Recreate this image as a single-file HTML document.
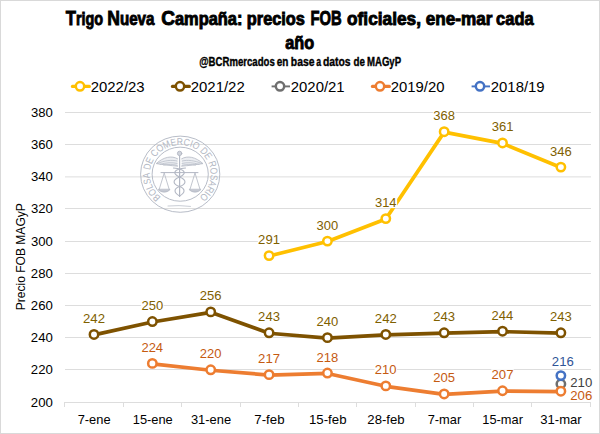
<!DOCTYPE html>
<html><head><meta charset="utf-8"><style>html,body{margin:0;padding:0;background:#fff;width:600px;height:434px;overflow:hidden}svg{display:block}</style></head>
<body><svg width="600" height="434" viewBox="0 0 600 434" font-family='"Liberation Sans", sans-serif'><rect x="0.5" y="0.5" width="599" height="433" fill="#fff" stroke="#d9d9d9" stroke-width="1"/>
<line x1="65" y1="112.5" x2="591" y2="112.5" stroke="#dddddd" stroke-width="1"/>
<line x1="65" y1="144.5" x2="591" y2="144.5" stroke="#dddddd" stroke-width="1"/>
<line x1="65" y1="176.9" x2="591" y2="176.9" stroke="#dddddd" stroke-width="1"/>
<line x1="65" y1="208.5" x2="591" y2="208.5" stroke="#dddddd" stroke-width="1"/>
<line x1="65" y1="241.5" x2="591" y2="241.5" stroke="#dddddd" stroke-width="1"/>
<line x1="65" y1="273.5" x2="591" y2="273.5" stroke="#dddddd" stroke-width="1"/>
<line x1="65" y1="305.5" x2="591" y2="305.5" stroke="#dddddd" stroke-width="1"/>
<line x1="65" y1="337.5" x2="591" y2="337.5" stroke="#dddddd" stroke-width="1"/>
<line x1="65" y1="369.5" x2="591" y2="369.5" stroke="#dddddd" stroke-width="1"/>
<line x1="65" y1="402.5" x2="591" y2="402.5" stroke="#dddddd" stroke-width="1"/>
<line x1="64.5" y1="402" x2="64.5" y2="407" stroke="#dddddd" stroke-width="1"/>
<line x1="123.5" y1="402" x2="123.5" y2="407" stroke="#dddddd" stroke-width="1"/>
<line x1="181.5" y1="402" x2="181.5" y2="407" stroke="#dddddd" stroke-width="1"/>
<line x1="240.5" y1="402" x2="240.5" y2="407" stroke="#dddddd" stroke-width="1"/>
<line x1="298.5" y1="402" x2="298.5" y2="407" stroke="#dddddd" stroke-width="1"/>
<line x1="356.5" y1="402" x2="356.5" y2="407" stroke="#dddddd" stroke-width="1"/>
<line x1="415.5" y1="402" x2="415.5" y2="407" stroke="#dddddd" stroke-width="1"/>
<line x1="473.5" y1="402" x2="473.5" y2="407" stroke="#dddddd" stroke-width="1"/>
<line x1="531.5" y1="402" x2="531.5" y2="407" stroke="#dddddd" stroke-width="1"/>
<line x1="590.5" y1="402" x2="590.5" y2="407" stroke="#dddddd" stroke-width="1"/>
<g transform="translate(180.2,174.2) scale(1,0.962)">
<g fill="none" stroke="#b2b7c3" stroke-width="0.95">
<circle cx="0" cy="0" r="39.6"/>
<circle cx="0" cy="0" r="28.1"/>
</g>
<g font-size="10.2" fill="#b2b7c3" text-anchor="middle">
<text transform="translate(-21.15,21.84) rotate(-135.92) scale(0.848,1)">B</text>
<text transform="translate(-25.16,17.06) rotate(-124.14) scale(0.848,1)">O</text>
<text transform="translate(-27.93,12.00) rotate(-113.26) scale(0.848,1)">L</text>
<text transform="translate(-29.59,6.99) rotate(-103.29) scale(0.848,1)">S</text>
<text transform="translate(-30.37,1.28) rotate(-92.41) scale(0.848,1)">A</text>
<text transform="translate(-29.57,-7.07) rotate(-76.55) scale(0.848,1)">D</text>
<text transform="translate(-27.60,-12.74) rotate(-65.22) scale(0.848,1)">E</text>
<text transform="translate(-23.07,-19.80) rotate(-49.37) scale(0.848,1)">C</text>
<text transform="translate(-18.35,-24.23) rotate(-37.14) scale(0.848,1)">O</text>
<text transform="translate(-12.37,-27.77) rotate(-24.00) scale(0.848,1)">M</text>
<text transform="translate(-6.20,-29.76) rotate(-11.77) scale(0.848,1)">E</text>
<text transform="translate(-0.24,-30.40) rotate(-0.45) scale(0.848,1)">R</text>
<text transform="translate(5.97,-29.81) rotate(11.33) scale(0.848,1)">C</text>
<text transform="translate(10.14,-28.66) rotate(19.48) scale(0.848,1)">I</text>
<text transform="translate(14.31,-26.82) rotate(28.09) scale(0.848,1)">O</text>
<text transform="translate(21.44,-21.55) rotate(44.85) scale(0.848,1)">D</text>
<text transform="translate(25.26,-16.92) rotate(56.18) scale(0.848,1)">E</text>
<text transform="translate(28.92,-9.38) rotate(72.04) scale(0.848,1)">R</text>
<text transform="translate(30.25,-3.04) rotate(84.27) scale(0.848,1)">O</text>
<text transform="translate(30.23,3.20) rotate(96.05) scale(0.848,1)">S</text>
<text transform="translate(29.08,8.85) rotate(106.93) scale(0.848,1)">A</text>
<text transform="translate(26.78,14.39) rotate(118.25) scale(0.848,1)">R</text>
<text transform="translate(24.47,18.04) rotate(126.41) scale(0.848,1)">I</text>
<text transform="translate(21.49,21.50) rotate(135.01) scale(0.848,1)">O</text>
</g>
</g>
<g fill="none" stroke="#b2b7c3" stroke-width="0.9" stroke-linecap="round" stroke-linejoin="round">
<line x1="179.6" y1="155.5" x2="179.6" y2="196.5" stroke-width="1.2"/>
<circle cx="179.6" cy="153.4" r="2.2" fill="#d0d4dc"/>
<path d="M177.60,158.8 C171.60,155.2 163.60,157 156.20,163.6 C162.60,164.6 170.60,165.6 177.60,166.2" fill="#eceef2" stroke-width="0.8"/>
<path d="M157.60,163.4 C164.60,160.5 171.60,159.6 177.10,161 M160.10,164.3 C166.60,162.6 171.60,162.2 177.10,163.4 M163.60,165.1 C168.60,164.4 172.60,164.2 177.10,165.3" stroke-width="0.7"/>
<path d="M164.20,173 L159.00,190 M164.20,173 L169.40,190" stroke-width="0.8"/>
<path d="M158.60,189.6 C160.20,193 168.20,193 169.80,189.6 Z" fill="#c4c8d2" stroke-width="0.8"/>
<path d="M181.60,158.8 C187.60,155.2 195.60,157 203.00,163.6 C196.60,164.6 188.60,165.6 181.60,166.2" fill="#eceef2" stroke-width="0.8"/>
<path d="M201.60,163.4 C194.60,160.5 187.60,159.6 182.10,161 M199.10,164.3 C192.60,162.6 187.60,162.2 182.10,163.4 M195.60,165.1 C190.60,164.4 186.60,164.2 182.10,165.3" stroke-width="0.7"/>
<path d="M195.00,173 L189.80,190 M195.00,173 L200.20,190" stroke-width="0.8"/>
<path d="M189.40,189.6 C191.00,193 199.00,193 200.60,189.6 Z" fill="#c4c8d2" stroke-width="0.8"/>
<path d="M161,172.6 L198,172.6" stroke-width="1.0"/>
<path d="M173.5,168 C186,169 187,174 179.6,177 C172,180 172.5,184 179.6,186.5 C186,189 185,193 179.6,196" stroke-width="1.1"/>
<path d="M185.5,168 C173,169 172,174 179.6,177 C187,180 186.5,184 179.6,186.5 C173,189 174,193 179.6,196" stroke-width="1.1"/>
<path d="M168,206 Q179,205 190.5,206.4" stroke-width="0.7"/>
</g>
<text x="30.84" y="406.50" font-size="12.9" fill="#000000" textLength="21.97" lengthAdjust="spacingAndGlyphs">200</text>
<text x="30.84" y="374.32" font-size="12.9" fill="#000000" textLength="21.97" lengthAdjust="spacingAndGlyphs">220</text>
<text x="30.84" y="342.14" font-size="12.9" fill="#000000" textLength="21.97" lengthAdjust="spacingAndGlyphs">240</text>
<text x="30.84" y="309.97" font-size="12.9" fill="#000000" textLength="21.97" lengthAdjust="spacingAndGlyphs">260</text>
<text x="30.84" y="277.79" font-size="12.9" fill="#000000" textLength="21.97" lengthAdjust="spacingAndGlyphs">280</text>
<text x="30.98" y="245.61" font-size="12.9" fill="#000000" textLength="21.83" lengthAdjust="spacingAndGlyphs">300</text>
<text x="30.98" y="213.43" font-size="12.9" fill="#000000" textLength="21.83" lengthAdjust="spacingAndGlyphs">320</text>
<text x="30.98" y="181.26" font-size="12.9" fill="#000000" textLength="21.83" lengthAdjust="spacingAndGlyphs">340</text>
<text x="30.98" y="149.08" font-size="12.9" fill="#000000" textLength="21.83" lengthAdjust="spacingAndGlyphs">360</text>
<text x="30.98" y="116.90" font-size="12.9" fill="#000000" textLength="21.83" lengthAdjust="spacingAndGlyphs">380</text>
<text x="77.66" y="423.60" font-size="12.9" fill="#000000" textLength="32.96" lengthAdjust="spacingAndGlyphs">7-ene</text>
<text x="132.74" y="423.60" font-size="12.9" fill="#000000" textLength="40.03" lengthAdjust="spacingAndGlyphs">15-ene</text>
<text x="190.88" y="423.60" font-size="12.9" fill="#000000" textLength="40.18" lengthAdjust="spacingAndGlyphs">31-ene</text>
<text x="254.34" y="423.60" font-size="12.9" fill="#000000" textLength="30.18" lengthAdjust="spacingAndGlyphs">7-feb</text>
<text x="309.01" y="423.60" font-size="12.9" fill="#000000" textLength="37.53" lengthAdjust="spacingAndGlyphs">15-feb</text>
<text x="367.34" y="423.60" font-size="12.9" fill="#000000" textLength="37.29" lengthAdjust="spacingAndGlyphs">28-feb</text>
<text x="427.66" y="423.60" font-size="12.9" fill="#000000" textLength="33.55" lengthAdjust="spacingAndGlyphs">7-mar</text>
<text x="482.34" y="423.60" font-size="12.9" fill="#000000" textLength="40.59" lengthAdjust="spacingAndGlyphs">15-mar</text>
<text x="540.28" y="423.60" font-size="12.9" fill="#000000" textLength="41.45" lengthAdjust="spacingAndGlyphs">31-mar</text>
<g transform="translate(24.8,309.3) rotate(-90)">
<text x="-0.96" y="0" font-size="12.9" fill="#000" textLength="107.08" lengthAdjust="spacingAndGlyphs">Precio FOB MAGyP</text>
</g>
<text x="65.69" y="25.4" font-weight="bold" fill="#000" stroke="#000" stroke-width="0.9" textLength="37.48" lengthAdjust="spacingAndGlyphs"><tspan font-size="20.5">T</tspan><tspan font-size="17.7">rigo</tspan></text>
<text x="107.25" y="25.4" font-weight="bold" fill="#000" stroke="#000" stroke-width="0.9" textLength="47.17" lengthAdjust="spacingAndGlyphs"><tspan font-size="20.5">N</tspan><tspan font-size="17.7">ueva</tspan></text>
<text x="161.21" y="25.4" font-weight="bold" fill="#000" stroke="#000" stroke-width="0.9" textLength="81.21" lengthAdjust="spacingAndGlyphs"><tspan font-size="20.5">C</tspan><tspan font-size="17.7">ampaña:</tspan></text>
<text x="246.84" y="25.4" font-weight="bold" fill="#000" stroke="#000" stroke-width="0.9" textLength="58.11" lengthAdjust="spacingAndGlyphs"><tspan font-size="17.7">precios</tspan></text>
<text x="310.44" y="25.4" font-weight="bold" fill="#000" stroke="#000" stroke-width="0.9" textLength="31.24" lengthAdjust="spacingAndGlyphs"><tspan font-size="20.5">FOB</tspan></text>
<text x="347.07" y="25.4" font-weight="bold" fill="#000" stroke="#000" stroke-width="0.9" textLength="73.90" lengthAdjust="spacingAndGlyphs"><tspan font-size="17.7">oficiales,</tspan></text>
<text x="425.77" y="25.4" font-weight="bold" fill="#000" stroke="#000" stroke-width="0.9" textLength="66.63" lengthAdjust="spacingAndGlyphs"><tspan font-size="17.7">ene-mar</tspan></text>
<text x="496.10" y="25.4" font-weight="bold" fill="#000" stroke="#000" stroke-width="0.9" textLength="37.51" lengthAdjust="spacingAndGlyphs"><tspan font-size="17.7">cada</tspan></text>
<text x="285.29" y="49.4" font-weight="bold" fill="#000" stroke="#000" stroke-width="0.9" textLength="28.87" lengthAdjust="spacingAndGlyphs"><tspan font-size="17.7">año</tspan></text>
<text x="199.25" y="66.00" font-size="12.0" font-weight="bold" fill="#000" textLength="75.47" lengthAdjust="spacingAndGlyphs" stroke="#000" stroke-width="0.35">@BCRmercados</text>
<text x="276.78" y="66.00" font-size="12.0" font-weight="bold" fill="#000" textLength="11.67" lengthAdjust="spacingAndGlyphs" stroke="#000" stroke-width="0.35">en</text>
<text x="290.80" y="66.00" font-size="12.0" font-weight="bold" fill="#000" textLength="23.68" lengthAdjust="spacingAndGlyphs" stroke="#000" stroke-width="0.35">base</text>
<text x="316.21" y="66.00" font-size="12.0" font-weight="bold" fill="#000" textLength="4.83" lengthAdjust="spacingAndGlyphs" stroke="#000" stroke-width="0.35">a</text>
<text x="322.96" y="66.00" font-size="12.0" font-weight="bold" fill="#000" textLength="27.70" lengthAdjust="spacingAndGlyphs" stroke="#000" stroke-width="0.35">datos</text>
<text x="353.48" y="66.00" font-size="12.0" font-weight="bold" fill="#000" textLength="11.40" lengthAdjust="spacingAndGlyphs" stroke="#000" stroke-width="0.35">de</text>
<text x="366.95" y="66.00" font-size="12.0" font-weight="bold" fill="#000" textLength="34.17" lengthAdjust="spacingAndGlyphs" stroke="#000" stroke-width="0.35">MAGyP</text>
<polyline points="94.00,334.83 152.36,321.96 210.72,312.30 269.08,333.22 327.44,338.04 385.80,334.83 444.16,333.22 502.52,331.61 560.88,333.22" fill="none" stroke="#7E5200" stroke-width="3.7" stroke-linejoin="round" stroke-linecap="round"/>
<circle cx="94.00" cy="334.43" r="4.2" fill="#fff" stroke="#7E5200" stroke-width="2.5"/>
<circle cx="152.36" cy="321.56" r="4.2" fill="#fff" stroke="#7E5200" stroke-width="2.5"/>
<circle cx="210.72" cy="311.90" r="4.2" fill="#fff" stroke="#7E5200" stroke-width="2.5"/>
<circle cx="269.08" cy="332.82" r="4.2" fill="#fff" stroke="#7E5200" stroke-width="2.5"/>
<circle cx="327.44" cy="337.64" r="4.2" fill="#fff" stroke="#7E5200" stroke-width="2.5"/>
<circle cx="385.80" cy="334.43" r="4.2" fill="#fff" stroke="#7E5200" stroke-width="2.5"/>
<circle cx="444.16" cy="332.82" r="4.2" fill="#fff" stroke="#7E5200" stroke-width="2.5"/>
<circle cx="502.52" cy="331.21" r="4.2" fill="#fff" stroke="#7E5200" stroke-width="2.5"/>
<circle cx="560.88" cy="332.82" r="4.2" fill="#fff" stroke="#7E5200" stroke-width="2.5"/>
<polyline points="269.08,255.99 327.44,241.51 385.80,218.99 444.16,132.11 502.52,143.37 560.88,167.50" fill="none" stroke="#FFC000" stroke-width="3.7" stroke-linejoin="round" stroke-linecap="round"/>
<circle cx="269.08" cy="255.59" r="4.2" fill="#fff" stroke="#FFC000" stroke-width="2.5"/>
<circle cx="327.44" cy="241.11" r="4.2" fill="#fff" stroke="#FFC000" stroke-width="2.5"/>
<circle cx="385.80" cy="218.59" r="4.2" fill="#fff" stroke="#FFC000" stroke-width="2.5"/>
<circle cx="444.16" cy="131.71" r="4.2" fill="#fff" stroke="#FFC000" stroke-width="2.5"/>
<circle cx="502.52" cy="142.97" r="4.2" fill="#fff" stroke="#FFC000" stroke-width="2.5"/>
<circle cx="560.88" cy="167.10" r="4.2" fill="#fff" stroke="#FFC000" stroke-width="2.5"/>
<circle cx="560.88" cy="383.98" r="4.2" fill="#fff" stroke="#6F6F6F" stroke-width="2.5"/>
<polyline points="152.36,363.79 210.72,370.22 269.08,375.05 327.44,373.44 385.80,386.31 444.16,394.36 502.52,391.14 560.88,391.62" fill="none" stroke="#ED7D31" stroke-width="3.7" stroke-linejoin="round" stroke-linecap="round"/>
<circle cx="152.36" cy="363.39" r="4.2" fill="#fff" stroke="#ED7D31" stroke-width="2.5"/>
<circle cx="210.72" cy="369.82" r="4.2" fill="#fff" stroke="#ED7D31" stroke-width="2.5"/>
<circle cx="269.08" cy="374.65" r="4.2" fill="#fff" stroke="#ED7D31" stroke-width="2.5"/>
<circle cx="327.44" cy="373.04" r="4.2" fill="#fff" stroke="#ED7D31" stroke-width="2.5"/>
<circle cx="385.80" cy="385.91" r="4.2" fill="#fff" stroke="#ED7D31" stroke-width="2.5"/>
<circle cx="444.16" cy="393.96" r="4.2" fill="#fff" stroke="#ED7D31" stroke-width="2.5"/>
<circle cx="502.52" cy="390.74" r="4.2" fill="#fff" stroke="#ED7D31" stroke-width="2.5"/>
<circle cx="560.88" cy="391.22" r="4.2" fill="#fff" stroke="#ED7D31" stroke-width="2.5"/>
<circle cx="560.88" cy="375.61" r="4.2" fill="#fff" stroke="#4472C4" stroke-width="2.5"/>
<rect x="82.7" y="312.9" width="22.6" height="11" fill="#fff"/>
<text x="83.04" y="322.93" font-size="12.9" fill="#7F6000" textLength="21.96" lengthAdjust="spacingAndGlyphs">242</text>
<rect x="141.1" y="300.1" width="22.6" height="11" fill="#fff"/>
<text x="141.41" y="310.06" font-size="12.9" fill="#7F6000" textLength="21.75" lengthAdjust="spacingAndGlyphs">250</text>
<rect x="199.4" y="290.4" width="22.6" height="11" fill="#fff"/>
<text x="199.77" y="300.40" font-size="12.9" fill="#7F6000" textLength="21.82" lengthAdjust="spacingAndGlyphs">256</text>
<rect x="257.8" y="311.3" width="22.6" height="11" fill="#fff"/>
<text x="258.13" y="321.32" font-size="12.9" fill="#7F6000" textLength="21.82" lengthAdjust="spacingAndGlyphs">243</text>
<rect x="316.1" y="316.1" width="22.6" height="11" fill="#fff"/>
<text x="316.49" y="326.14" font-size="12.9" fill="#7F6000" textLength="21.75" lengthAdjust="spacingAndGlyphs">240</text>
<rect x="374.5" y="312.9" width="22.6" height="11" fill="#fff"/>
<text x="374.84" y="322.93" font-size="12.9" fill="#7F6000" textLength="21.96" lengthAdjust="spacingAndGlyphs">242</text>
<rect x="432.9" y="311.3" width="22.6" height="11" fill="#fff"/>
<text x="433.21" y="321.32" font-size="12.9" fill="#7F6000" textLength="21.82" lengthAdjust="spacingAndGlyphs">243</text>
<rect x="491.2" y="309.7" width="22.6" height="11" fill="#fff"/>
<text x="491.57" y="319.71" font-size="12.9" fill="#7F6000" textLength="21.69" lengthAdjust="spacingAndGlyphs">244</text>
<rect x="549.6" y="311.3" width="22.6" height="11" fill="#fff"/>
<text x="549.93" y="321.32" font-size="12.9" fill="#7F6000" textLength="21.82" lengthAdjust="spacingAndGlyphs">243</text>
<rect x="257.8" y="234.1" width="22.6" height="11" fill="#fff"/>
<text x="258.12" y="244.09" font-size="12.9" fill="#7F6000" textLength="21.89" lengthAdjust="spacingAndGlyphs">291</text>
<rect x="316.1" y="219.6" width="22.6" height="11" fill="#fff"/>
<text x="316.62" y="229.61" font-size="12.9" fill="#7F6000" textLength="21.62" lengthAdjust="spacingAndGlyphs">300</text>
<rect x="374.5" y="197.1" width="22.6" height="11" fill="#fff"/>
<text x="374.98" y="207.09" font-size="12.9" fill="#7F6000" textLength="21.55" lengthAdjust="spacingAndGlyphs">314</text>
<rect x="432.9" y="110.2" width="22.6" height="11" fill="#fff"/>
<text x="433.34" y="120.21" font-size="12.9" fill="#7F6000" textLength="21.69" lengthAdjust="spacingAndGlyphs">368</text>
<rect x="491.2" y="121.5" width="22.6" height="11" fill="#fff"/>
<text x="491.70" y="131.47" font-size="12.9" fill="#7F6000" textLength="21.75" lengthAdjust="spacingAndGlyphs">361</text>
<rect x="549.6" y="145.6" width="22.6" height="11" fill="#fff"/>
<text x="550.06" y="155.60" font-size="12.9" fill="#7F6000" textLength="21.69" lengthAdjust="spacingAndGlyphs">346</text>
<rect x="141.1" y="341.9" width="22.6" height="11" fill="#fff"/>
<text x="141.41" y="351.89" font-size="12.9" fill="#C55A11" textLength="21.69" lengthAdjust="spacingAndGlyphs">224</text>
<rect x="199.4" y="348.3" width="22.6" height="11" fill="#fff"/>
<text x="199.77" y="358.32" font-size="12.9" fill="#C55A11" textLength="21.75" lengthAdjust="spacingAndGlyphs">220</text>
<rect x="257.8" y="353.1" width="22.6" height="11" fill="#fff"/>
<text x="258.12" y="363.15" font-size="12.9" fill="#C55A11" textLength="21.96" lengthAdjust="spacingAndGlyphs">217</text>
<rect x="316.1" y="351.5" width="22.6" height="11" fill="#fff"/>
<text x="316.49" y="361.54" font-size="12.9" fill="#C55A11" textLength="21.82" lengthAdjust="spacingAndGlyphs">218</text>
<rect x="374.5" y="364.4" width="22.6" height="11" fill="#fff"/>
<text x="374.85" y="374.41" font-size="12.9" fill="#C55A11" textLength="21.75" lengthAdjust="spacingAndGlyphs">210</text>
<rect x="432.9" y="372.5" width="22.6" height="11" fill="#fff"/>
<text x="433.21" y="382.46" font-size="12.9" fill="#C55A11" textLength="21.82" lengthAdjust="spacingAndGlyphs">205</text>
<rect x="491.2" y="369.2" width="22.6" height="11" fill="#fff"/>
<text x="491.56" y="379.24" font-size="12.9" fill="#C55A11" textLength="21.96" lengthAdjust="spacingAndGlyphs">207</text>
<rect x="551.5" y="355.8" width="22.7" height="11" fill="#fff"/>
<text x="551.84" y="365.80" font-size="12.9" fill="#2F5597" textLength="21.93" lengthAdjust="spacingAndGlyphs">216</text>
<rect x="569.9" y="377.2" width="22.8" height="11" fill="#fff"/>
<text x="570.24" y="387.20" font-size="12.9" fill="#404040" textLength="21.97" lengthAdjust="spacingAndGlyphs">210</text>
<rect x="569.9" y="389.6" width="22.8" height="11" fill="#fff"/>
<text x="570.24" y="399.60" font-size="12.9" fill="#C55A11" textLength="22.04" lengthAdjust="spacingAndGlyphs">206</text>
<line x1="72.4" y1="86.4" x2="89.4" y2="86.4" stroke="#FFC000" stroke-width="3.1" stroke-linecap="round"/>
<circle cx="80" cy="86.3" r="4.2" fill="#fff" stroke="#FFC000" stroke-width="2.5"/>
<text x="90.76" y="91.50" font-size="14.3" fill="#000" textLength="53.84" lengthAdjust="spacingAndGlyphs">2022/23</text>
<line x1="172.4" y1="86.4" x2="189.4" y2="86.4" stroke="#7E5200" stroke-width="3.1" stroke-linecap="round"/>
<circle cx="180" cy="86.3" r="4.2" fill="#fff" stroke="#7E5200" stroke-width="2.5"/>
<text x="190.75" y="91.50" font-size="14.3" fill="#000" textLength="53.99" lengthAdjust="spacingAndGlyphs">2021/22</text>
<line x1="271.6" y1="86.4" x2="290" y2="86.4" stroke="#6F6F6F" stroke-width="1.9"/>
<circle cx="280" cy="86.3" r="4.2" fill="#fff" stroke="#6F6F6F" stroke-width="2.5"/>
<text x="290.75" y="91.50" font-size="14.3" fill="#000" textLength="53.91" lengthAdjust="spacingAndGlyphs">2020/21</text>
<line x1="372.4" y1="86.4" x2="389.4" y2="86.4" stroke="#ED7D31" stroke-width="3.1" stroke-linecap="round"/>
<circle cx="380" cy="86.3" r="4.2" fill="#fff" stroke="#ED7D31" stroke-width="2.5"/>
<text x="390.76" y="91.50" font-size="14.3" fill="#000" textLength="53.76" lengthAdjust="spacingAndGlyphs">2019/20</text>
<line x1="471.6" y1="86.4" x2="490" y2="86.4" stroke="#4472C4" stroke-width="1.9"/>
<circle cx="480" cy="86.3" r="4.2" fill="#fff" stroke="#4472C4" stroke-width="2.5"/>
<text x="490.75" y="91.50" font-size="14.3" fill="#000" textLength="53.91" lengthAdjust="spacingAndGlyphs">2018/19</text></svg></body></html>
